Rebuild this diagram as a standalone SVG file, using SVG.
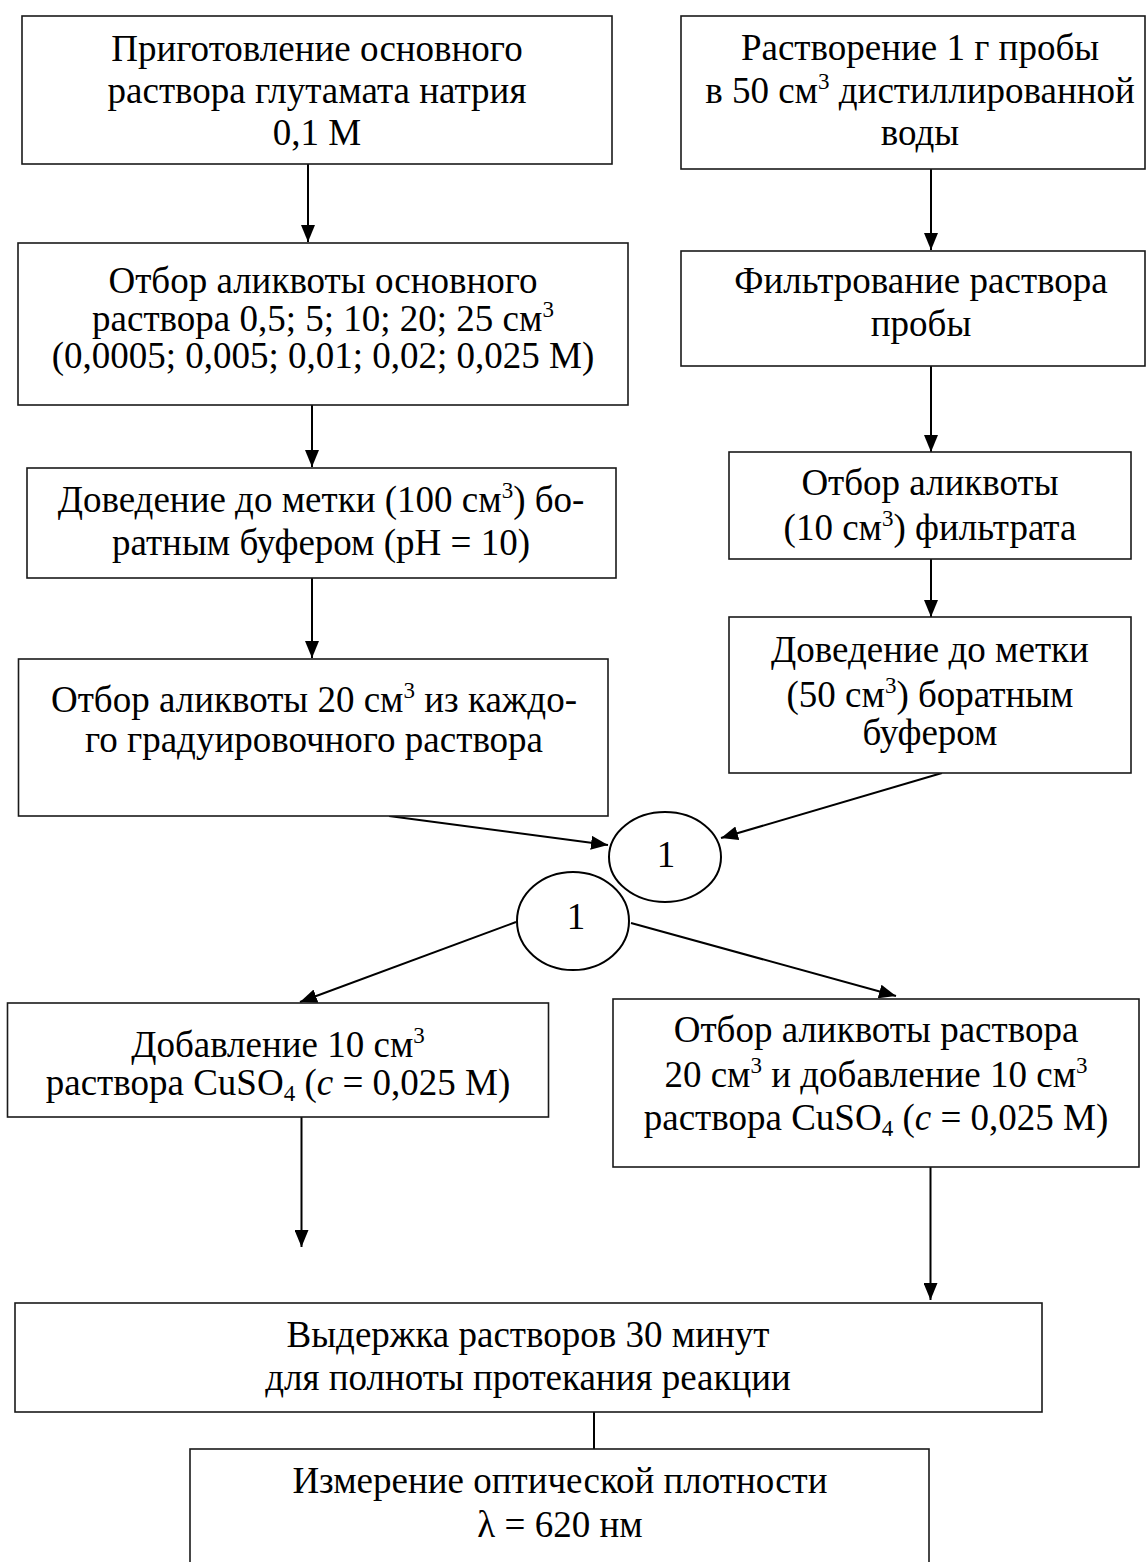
<svg xmlns="http://www.w3.org/2000/svg" width="1147" height="1562" viewBox="0 0 1147 1562">
<style>
.box{fill:#fff;stroke:#1a1a1a;stroke-width:1.6}
.circ{fill:#fff;stroke:#000;stroke-width:2}
.t{font-family:"Liberation Serif","Times New Roman",serif;font-size:37px;fill:#000;text-anchor:middle}
.sup{font-size:23px}
.sub{font-size:23px}
.con{stroke:#000;stroke-width:2;fill:none}
</style>
<defs>
<marker id="ah" markerUnits="userSpaceOnUse" markerWidth="18" markerHeight="14" refX="17" refY="7" orient="auto">
<path d="M0,0 L17,7 L0,14 z" fill="#000"/>
</marker>
</defs>
<rect width="1147" height="1562" fill="#fff"/>

<g id="connectors">
<line class="con" x1="308" y1="164" x2="308" y2="242" marker-end="url(#ah)"/>
<line class="con" x1="312" y1="405" x2="312" y2="467" marker-end="url(#ah)"/>
<line class="con" x1="312" y1="578" x2="312" y2="658" marker-end="url(#ah)"/>
<line class="con" x1="931" y1="169" x2="931" y2="250" marker-end="url(#ah)"/>
<line class="con" x1="931" y1="366" x2="931" y2="452" marker-end="url(#ah)"/>
<line class="con" x1="931" y1="559" x2="931" y2="617" marker-end="url(#ah)"/>
<line class="con" x1="389" y1="816" x2="608" y2="845" marker-end="url(#ah)"/>
<line class="con" x1="942" y1="773" x2="721" y2="838" marker-end="url(#ah)"/>
<line class="con" x1="516" y1="922" x2="300" y2="1002" marker-end="url(#ah)"/>
<line class="con" x1="631" y1="923" x2="896" y2="996" marker-end="url(#ah)"/>
<line class="con" x1="301.5" y1="1117" x2="301.5" y2="1247" marker-end="url(#ah)"/>
<line class="con" x1="930.5" y1="1167" x2="930.5" y2="1300" marker-end="url(#ah)"/>
<line class="con" x1="594" y1="1412" x2="594" y2="1449"/>
</g>

<g id="n1">
<rect class="box" x="22" y="16" width="590" height="148"/>
<text class="t" x="317" y="61">Приготовление основного</text>
<text class="t" x="317" y="103">раствора глутамата натрия</text>
<text class="t" x="317" y="145">0,1 М</text>
</g>

<g id="n2">
<rect class="box" x="681" y="16" width="464" height="153"/>
<text class="t" x="920" y="60">Растворение 1 г пробы</text>
<text class="t" x="920" y="103">в 50 см<tspan class="sup" dy="-14">3</tspan><tspan dy="14"> дистиллированной</tspan></text>
<text class="t" x="920" y="145">воды</text>
</g>

<g id="n3">
<rect class="box" x="18" y="243" width="610" height="162"/>
<text class="t" x="323" y="293">Отбор аликвоты основного</text>
<text class="t" x="323" y="331">раствора 0,5; 5; 10; 20; 25 см<tspan class="sup" dy="-14">3</tspan></text>
<text class="t" x="323" y="368">(0,0005; 0,005; 0,01; 0,02; 0,025 М)</text>
</g>

<g id="n4">
<rect class="box" x="681" y="251" width="464" height="115"/>
<text class="t" x="921" y="293">Фильтрование раствора</text>
<text class="t" x="921" y="336">пробы</text>
</g>

<g id="n5">
<rect class="box" x="27" y="468" width="589" height="110"/>
<text class="t" x="321" y="512">Доведение до метки (100 см<tspan class="sup" dy="-14">3</tspan><tspan dy="14">) бо-</tspan></text>
<text class="t" x="321" y="555">ратным буфером (pH = 10)</text>
</g>

<g id="n6">
<rect class="box" x="729" y="452" width="402" height="107"/>
<text class="t" x="930" y="495">Отбор аликвоты</text>
<text class="t" x="930" y="540">(10 см<tspan class="sup" dy="-14">3</tspan><tspan dy="14">) фильтрата</tspan></text>
</g>

<g id="n7">
<rect class="box" x="18.5" y="659" width="589.5" height="157"/>
<text class="t" x="314" y="712">Отбор аликвоты 20 см<tspan class="sup" dy="-14">3</tspan><tspan dy="14"> из каждо-</tspan></text>
<text class="t" x="314" y="752">го градуировочного раствора</text>
</g>

<g id="n8">
<rect class="box" x="729" y="617" width="402" height="156"/>
<text class="t" x="930" y="662">Доведение до метки</text>
<text class="t" x="930" y="707">(50 см<tspan class="sup" dy="-14">3</tspan><tspan dy="14">) боратным</tspan></text>
<text class="t" x="930" y="745">буфером</text>
</g>

<g id="c1">
<ellipse class="circ" cx="665" cy="857" rx="56" ry="45"/>
<text class="t" x="666" y="867">1</text>
</g>

<g id="c2">
<ellipse class="circ" cx="573" cy="921" rx="56" ry="49"/>
<text class="t" x="576" y="929">1</text>
</g>

<g id="n9">
<rect class="box" x="7.5" y="1003" width="541" height="114"/>
<text class="t" x="278" y="1057">Добавление 10 см<tspan class="sup" dy="-14">3</tspan></text>
<text class="t" x="278" y="1095">раствора CuSO<tspan class="sub" dy="6">4</tspan><tspan dy="-6"> (</tspan><tspan font-style="italic">c</tspan> = 0,025 М)</text>
</g>

<g id="n10">
<rect class="box" x="613" y="999" width="526" height="168"/>
<text class="t" x="876" y="1042">Отбор аликвоты раствора</text>
<text class="t" x="876" y="1087">20 см<tspan class="sup" dy="-14">3</tspan><tspan dy="14"> и добавление 10 см</tspan><tspan class="sup" dy="-14">3</tspan></text>
<text class="t" x="876" y="1130">раствора CuSO<tspan class="sub" dy="6">4</tspan><tspan dy="-6"> (</tspan><tspan font-style="italic">c</tspan> = 0,025 М)</text>
</g>

<g id="n11">
<rect class="box" x="15" y="1303" width="1027" height="109"/>
<text class="t" x="528" y="1347">Выдержка растворов 30 минут</text>
<text class="t" x="528" y="1390">для полноты протекания реакции</text>
</g>

<g id="n12">
<rect class="box" x="190" y="1449" width="739" height="130"/>
<text class="t" x="560" y="1493">Измерение оптической плотности</text>
<text class="t" x="560" y="1537">λ = 620 нм</text>
</g>
</svg>
